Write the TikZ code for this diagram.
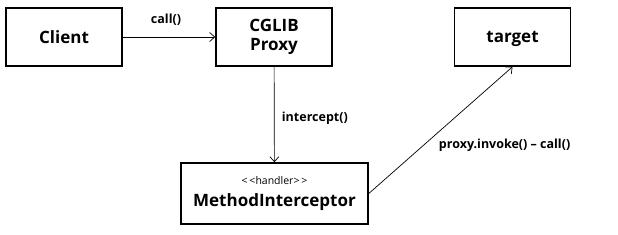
\documentclass[tikz,border=0pt]{standalone}
\usepackage{fontspec}
\setmainfont{Open Sans}
\usetikzlibrary{arrows.meta,positioning}

\begin{document}
\begin{tikzpicture}[
    x=1pt, y=-1pt,
    cls/.style={draw, line width=1.6pt, minimum width=116pt, minimum height=58pt, align=center, font=\fontsize{17}{19}\selectfont\bfseries},
    lbl/.style={font=\fontsize{12.5}{14}\selectfont\bfseries},
    arrow/.style={-{Straight Barb[length=5pt,width=9pt]}, line width=0.7pt}
  ]
    \useasboundingbox (0,0) rectangle (618,235);
    \node[cls] (client) at (64,37) {Client};
    \node[cls] (proxy) at (274,37) {CGLIB\\Proxy};
    \node[cls, text depth=0pt] (target) at (512.5,37) {target};
    \node[cls, minimum width=187pt, minimum height=61pt, inner sep=2pt] (handler) at (274.5,193.5)
      {{\fontsize{10.5}{11}\selectfont\mdseries {<}\,{<}handler{>}\,{>}}\\[3pt]MethodInterceptor};
    \draw[arrow] (client) -- (proxy) node[lbl, midway, above=8pt, xshift=-3pt] (calllbl) {call()};
    \draw[arrow] (proxy) -- (handler) node[lbl, midway, right=4pt, yshift=-4pt] (interceptlbl) {intercept()};
    \draw[arrow] (handler.east) -- (target.south) node[lbl, pos=0.4, anchor=west, xshift=9pt, yshift=-2pt] (invokelbl) {proxy.invoke() -- call()};
  \end{tikzpicture}
\end{document}
